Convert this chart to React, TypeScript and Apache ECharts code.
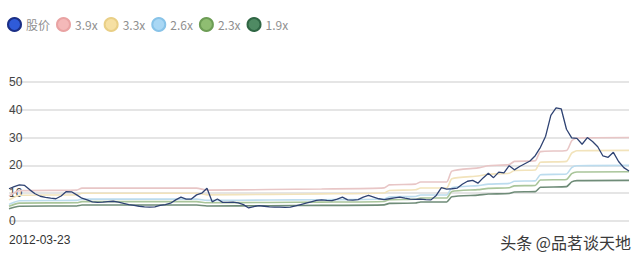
import React, { useEffect, useRef } from "react";
import * as echarts from "echarts";

// Monthly categories starting 2012-03-23
const startDate = "2012-03-23";
const monthCount = 120;
const dates: string[] = [];
for (let k = 0; k < monthCount; k++) {
  const y = 2012 + Math.floor((2 + k) / 12);
  const m = ((2 + k) % 12) + 1;
  dates.push(`${y}-${String(m).padStart(2, "0")}-23`);
}

const legendNames = ["股价", "3.9x", "3.3x", "2.6x", "2.3x", "1.9x"];

const price = [
  11.6, 12.4, 13.0, 12.8, 11.2, 9.8, 8.9, 8.5, 8.2, 8.0,
  9.0, 10.6, 10.5, 9.4, 8.2, 7.6, 6.9, 6.7, 6.8, 7.0,
  7.1, 6.8, 6.3, 5.9, 5.6, 5.3, 5.1, 5.0, 5.1, 5.6,
  5.9, 6.4, 7.6, 8.6, 7.9, 7.9, 9.4, 10.0, 11.8, 6.9,
  7.9, 6.7, 6.7, 6.8, 6.5, 5.9, 4.7, 5.2, 5.5, 5.3,
  5.1, 5.0, 5.0, 4.9, 5.0, 5.4, 5.9, 6.4, 6.9, 7.4,
  7.6, 7.4, 7.3, 7.9, 8.6, 7.6, 7.5, 7.7, 8.6, 9.2,
  8.6, 8.0, 7.7, 8.0, 8.3, 8.6, 8.2, 7.9, 7.8, 7.9,
  7.7, 7.6, 9.2, 12.0, 11.5, 11.6, 11.8, 13.2, 14.3, 14.6,
  13.6, 15.5, 17.2, 15.6, 17.6, 17.3, 19.9, 18.4, 19.6, 20.6,
  21.6, 23.5, 26.5, 30.5, 38.0, 40.7, 40.3, 33.0, 29.9, 29.7,
  27.6, 30.0, 28.6, 26.7, 23.4, 22.9, 24.7, 21.4, 19.2, 18.0,
];

// Category indices where the band lines change
const bandIdx = [0, 1, 2, 13, 14, 36, 38, 50, 60, 72, 73, 78, 79, 84, 85, 90, 92, 96, 97, 101, 102, 107, 108, 109, 119];

const band39 = [8.97, 10.14, 10.92, 11.12, 11.82, 11.82, 11.12, 11.31, 11.51, 11.9, 12.99, 13.26, 14.04, 14.04, 17.94, 19.11, 19.89, 20.28, 21.45, 21.65, 24.96, 25.35, 28.86, 29.84, 30.03];
const band33 = [7.59, 8.58, 9.24, 9.41, 10.0, 10.0, 9.41, 9.57, 9.74, 10.07, 10.99, 11.22, 11.88, 11.88, 15.18, 16.17, 16.83, 17.16, 18.15, 18.32, 21.12, 21.45, 24.42, 25.25, 25.41];
const band26 = [5.98, 6.76, 7.28, 7.41, 7.88, 7.88, 7.41, 7.54, 7.67, 7.93, 8.66, 8.84, 9.36, 9.36, 11.96, 12.74, 13.26, 13.52, 14.3, 14.43, 16.64, 16.9, 19.24, 19.89, 20.02];
const band23 = [5.29, 5.98, 6.44, 6.56, 6.97, 6.97, 6.56, 6.67, 6.79, 7.02, 7.66, 7.82, 8.28, 8.28, 10.58, 11.27, 11.73, 11.96, 12.65, 12.77, 14.72, 14.95, 17.02, 17.6, 17.71];
const band19 = [4.37, 4.94, 5.32, 5.42, 5.76, 5.76, 5.42, 5.51, 5.61, 5.8, 6.33, 6.46, 6.84, 6.84, 8.74, 9.31, 9.69, 9.88, 10.45, 10.55, 12.16, 12.35, 14.06, 14.54, 14.63];

const yTicks = { min: 0, max: 50, interval: 10 };

const watermark = "头条 @品茗谈天地";

export default function App() {
  const ref = useRef<HTMLDivElement>(null);
  useEffect(() => {
    if (!ref.current) return;
    const chart = echarts.init(ref.current, null, { renderer: "svg" });
    const pair = (vals: number[]) => bandIdx.map((ix, k) => [ix, vals[k]]);
    const bands = [
      { name: legendNames[1], vals: band39, line: "#e8c6c6", fill: "#f4b9b9", border: "#e9a3a3" },
      { name: legendNames[2], vals: band33, line: "#f2e3bb", fill: "#f6e0a3", border: "#e9cf86" },
      { name: legendNames[3], vals: band26, line: "#bcdcee", fill: "#a9d7f4", border: "#88c3e8" },
      { name: legendNames[4], vals: band23, line: "#a9c59a", fill: "#8fbd72", border: "#6d9d55" },
      { name: legendNames[5], vals: band19, line: "#6f8c78", fill: "#4f8a63", border: "#2f6644" },
    ];
    chart.setOption({
      animation: false,
      backgroundColor: "#ffffff",
      legend: {
        left: 2,
        top: 12,
        icon: "circle",
        itemWidth: 13,
        itemHeight: 13,
        itemGap: 6,
        textStyle: { color: "#8f8f8f", fontSize: 12, fontFamily: "Noto Sans CJK SC" },
        data: legendNames,
      },
      grid: { left: 9, right: 11, top: 82, bottom: 38 },
      xAxis: {
        type: "category",
        data: dates,
        boundaryGap: false,
        axisLine: { show: false },
        axisTick: { show: false },
        axisLabel: {
          interval: (i: number) => i === 0,
          align: "left",
          margin: 13,
          color: "#333",
          fontSize: 12,
          fontFamily: "Liberation Sans",
        },
      },
      yAxis: {
        type: "value",
        min: yTicks.min,
        max: yTicks.max,
        interval: yTicks.interval,
        axisLine: { show: false },
        axisTick: { show: false },
        axisLabel: {
          inside: true,
          margin: 0,
          color: "#444",
          fontSize: 12,
          fontFamily: "Liberation Sans",
        },
        splitLine: { lineStyle: { color: "#dcdcdc", width: 1.5 } },
      },
      series: [
        ...bands.map((b) => ({
          name: b.name,
          type: "line",
          data: pair(b.vals),
          symbol: "none",
          smooth: 0.2,
          lineStyle: { color: b.line, width: 1.6 },
          itemStyle: { color: b.fill, borderColor: b.border, borderWidth: 1 },
          z: 2,
        })),
        {
          name: legendNames[0],
          type: "line",
          data: price,
          symbol: "none",
          lineStyle: { color: "#2f4373", width: 1.3 },
          itemStyle: { color: "#2f5bd9", borderColor: "#1b2f86", borderWidth: 1.5 },
          z: 3,
        },
      ],
      graphic: [
        {
          type: "text",
          right: 8,
          top: 233,
          style: {
            text: watermark,
            fontSize: 16,
            fontFamily: "Noto Sans CJK SC",
            fill: "#3a3a3a",
            stroke: "#ffffff",
            lineWidth: 2,
          },
          z: 10,
        },
      ],
    });
    return () => chart.dispose();
  }, []);
  return <div ref={ref} style={{ width: 640, height: 259, position: "absolute", left: 0, top: 0 }} />;
}
